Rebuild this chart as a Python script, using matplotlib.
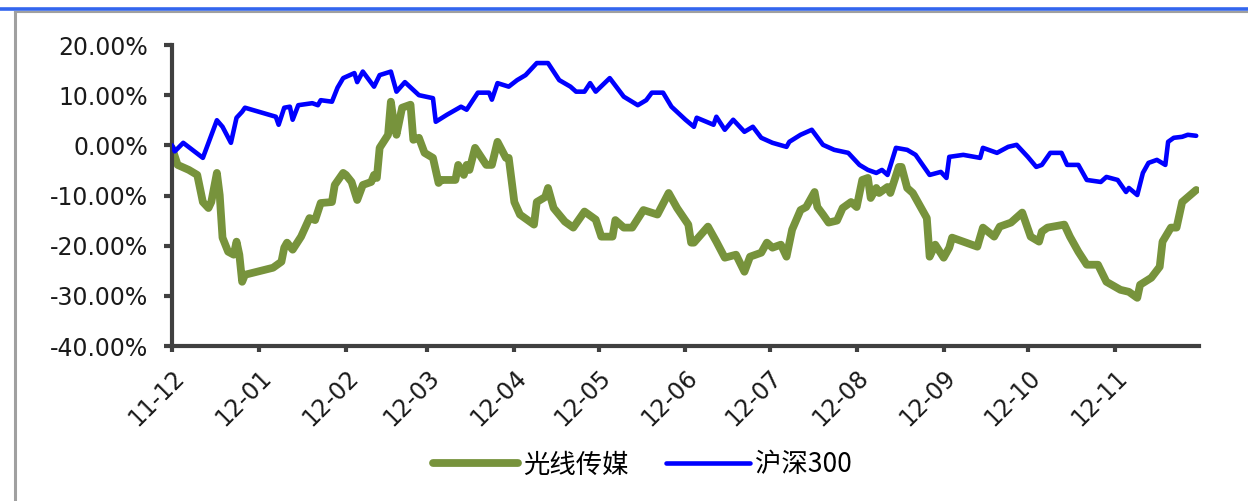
import matplotlib
matplotlib.use("Agg")
import matplotlib.pyplot as plt
import matplotlib.dates as mdates
from matplotlib.lines import Line2D
import pandas as pd

# ---------------- data ----------------
series_names = ["光线传媒", "沪深300"]

gx_dates = ["2011-12-01", "2011-12-03", "2011-12-07", "2011-12-10", "2011-12-12", "2011-12-14",
            "2011-12-15", "2011-12-17", "2011-12-18", "2011-12-19", "2011-12-21", "2011-12-23",
            "2011-12-24", "2011-12-25", "2011-12-26", "2011-12-27", "2012-01-06", "2012-01-09",
            "2012-01-10", "2012-01-11", "2012-01-13", "2012-01-16", "2012-01-19", "2012-01-21",
            "2012-01-23", "2012-01-27", "2012-01-28", "2012-01-31", "2012-02-01", "2012-02-03",
            "2012-02-05", "2012-02-07", "2012-02-10", "2012-02-11", "2012-02-12", "2012-02-13",
            "2012-02-16", "2012-02-17", "2012-02-18", "2012-02-19", "2012-02-21", "2012-02-24",
            "2012-02-25", "2012-02-27", "2012-02-29", "2012-03-03", "2012-03-05", "2012-03-06",
            "2012-03-11", "2012-03-12", "2012-03-14", "2012-03-15", "2012-03-16", "2012-03-18",
            "2012-03-22", "2012-03-24", "2012-03-26", "2012-03-29", "2012-03-30", "2012-04-01",
            "2012-04-03", "2012-04-08", "2012-04-09", "2012-04-12", "2012-04-13", "2012-04-15",
            "2012-04-19", "2012-04-22", "2012-04-26", "2012-04-30", "2012-05-02", "2012-05-06",
            "2012-05-07", "2012-05-10", "2012-05-13", "2012-05-17", "2012-05-22", "2012-05-26",
            "2012-05-29", "2012-06-02", "2012-06-03", "2012-06-04", "2012-06-09", "2012-06-12",
            "2012-06-15", "2012-06-19", "2012-06-22", "2012-06-24", "2012-06-28", "2012-06-30",
            "2012-07-02", "2012-07-05", "2012-07-07", "2012-07-09", "2012-07-12", "2012-07-14",
            "2012-07-17", "2012-07-18", "2012-07-20", "2012-07-22", "2012-07-25", "2012-07-27",
            "2012-07-30", "2012-08-01", "2012-08-03", "2012-08-05", "2012-08-06", "2012-08-08",
            "2012-08-09", "2012-08-12", "2012-08-13", "2012-08-16", "2012-08-17", "2012-08-19",
            "2012-08-21", "2012-08-24", "2012-08-26", "2012-08-27", "2012-08-29", "2012-09-01",
            "2012-09-03", "2012-09-04", "2012-09-13", "2012-09-15", "2012-09-19", "2012-09-21",
            "2012-09-25", "2012-09-29", "2012-10-02", "2012-10-05", "2012-10-06", "2012-10-08",
            "2012-10-14", "2012-10-16", "2012-10-19", "2012-10-22", "2012-10-26", "2012-10-29",
            "2012-11-03", "2012-11-06", "2012-11-09", "2012-11-10", "2012-11-14", "2012-11-17",
            "2012-11-18", "2012-11-21", "2012-11-23", "2012-11-25", "2012-11-30"]
gx_values = [-0.5, -3.9, -4.9, -5.9, -11.3, -12.5,
             -11.3, -5.5, -9.9, -18.4, -21.2, -21.8,
             -19.2, -21.8, -27.2, -25.8, -24.4, -23.2,
             -20.4, -19.4, -20.8, -18.2, -14.5, -14.9,
             -11.5, -11.3, -7.9, -5.5, -5.9, -7.3,
             -10.9, -7.9, -7.3, -5.9, -6.5, -0.5,
             2.1, 8.7, 4.7, 2.1, 7.5, 8.1,
             1.1, 1.5, -1.5, -2.5, -7.5, -6.9,
             -6.9, -3.9, -5.9, -3.9, -4.9, -0.5,
             -3.9, -3.9, 0.7, -2.5, -2.5, -11.3,
             -13.8, -15.8, -11.3, -10.3, -8.5, -12.5,
             -15.2, -16.4, -13.2, -14.8, -18.2, -18.2,
             -14.9, -16.4, -16.4, -12.9, -13.8, -9.5,
             -12.5, -15.8, -19.4, -19.4, -16.2, -19.2,
             -22.4, -21.8, -25.2, -22.2, -21.4, -19.4,
             -20.4, -19.8, -22.2, -16.8, -12.9, -12.3,
             -9.3, -12.3, -13.8, -15.4, -15.0, -12.5,
             -11.3, -12.3, -6.9, -6.5, -10.5, -8.5,
             -9.5, -8.3, -9.5, -4.3, -4.3, -8.5,
             -9.5, -12.5, -14.5, -22.2, -19.8, -22.4,
             -20.4, -18.4, -20.2, -16.4, -18.2, -16.2,
             -15.4, -13.4, -18.2, -19.2, -17.2, -16.4,
             -15.8, -18.2, -21.2, -23.8, -23.8, -27.2,
             -28.8, -29.2, -30.4, -27.8, -26.4, -24.2,
             -19.2, -16.4, -16.4, -11.3, -8.9]

hs_dates = ["2011-12-01", "2011-12-02", "2011-12-05", "2011-12-12", "2011-12-17", "2011-12-19",
            "2011-12-22", "2011-12-24", "2011-12-26", "2011-12-27", "2012-01-07", "2012-01-08",
            "2012-01-10", "2012-01-12", "2012-01-13", "2012-01-15", "2012-01-20", "2012-01-22",
            "2012-01-23", "2012-01-27", "2012-01-29", "2012-01-31", "2012-02-04", "2012-02-05",
            "2012-02-07", "2012-02-11", "2012-02-13", "2012-02-17", "2012-02-19", "2012-02-22",
            "2012-02-27", "2012-03-03", "2012-03-04", "2012-03-08", "2012-03-13", "2012-03-15",
            "2012-03-19", "2012-03-23", "2012-03-24", "2012-03-26", "2012-03-30", "2012-04-02",
            "2012-04-05", "2012-04-09", "2012-04-13", "2012-04-17", "2012-04-21", "2012-04-23",
            "2012-04-26", "2012-04-28", "2012-04-30", "2012-05-05", "2012-05-10", "2012-05-15",
            "2012-05-18", "2012-05-20", "2012-05-24", "2012-05-27", "2012-06-01", "2012-06-04",
            "2012-06-05", "2012-06-11", "2012-06-12", "2012-06-15", "2012-06-18", "2012-06-22",
            "2012-06-25", "2012-06-28", "2012-07-02", "2012-07-07", "2012-07-08", "2012-07-12",
            "2012-07-16", "2012-07-20", "2012-07-24", "2012-07-29", "2012-08-02", "2012-08-05",
            "2012-08-08", "2012-08-10", "2012-08-12", "2012-08-15", "2012-08-19", "2012-08-22",
            "2012-08-27", "2012-08-31", "2012-09-02", "2012-09-03", "2012-09-08", "2012-09-14",
            "2012-09-15", "2012-09-20", "2012-09-24", "2012-09-27", "2012-10-01", "2012-10-04",
            "2012-10-06", "2012-10-09", "2012-10-13", "2012-10-15", "2012-10-19", "2012-10-22",
            "2012-10-27", "2012-10-29", "2012-11-02", "2012-11-05", "2012-11-06", "2012-11-09",
            "2012-11-11", "2012-11-13", "2012-11-16", "2012-11-19", "2012-11-20", "2012-11-22",
            "2012-11-25", "2012-11-27", "2012-11-30"]
hs_values = [0.0, -1.2, 0.5, -2.5, 5.0, 3.7,
             0.5, 5.5, 6.7, 7.5, 5.7, 4.1,
             7.5, 7.7, 5.1, 8.0, 8.4, 8.0,
             9.0, 8.7, 11.5, 13.4, 14.4, 12.6,
             14.7, 11.7, 14.0, 14.7, 10.7, 12.6,
             10.0, 9.4, 4.7, 6.1, 7.7, 7.1,
             10.5, 10.5, 9.1, 12.4, 11.7, 13.0,
             14.0, 16.4, 16.4, 13.0, 11.7, 10.7,
             10.7, 12.4, 10.7, 13.4, 9.7, 8.0,
             9.0, 10.5, 10.5, 7.7, 5.1, 3.7,
             5.5, 4.1, 5.7, 3.1, 5.1, 2.7,
             3.7, 1.5, 0.5, -0.3, 0.7, 2.1,
             3.1, 0.1, -0.9, -1.5, -3.9, -4.9,
             -5.5, -4.9, -5.9, -0.5, -0.9, -1.9,
             -5.9, -5.3, -6.5, -2.3, -1.9, -2.5,
             -0.5, -1.5, -0.3, 0.1, -2.3, -4.3,
             -3.9, -1.5, -1.5, -3.9, -3.9, -6.9,
             -7.3, -6.3, -6.9, -9.3, -8.5, -9.9,
             -5.5, -3.5, -2.9, -3.9, 0.7, 1.5,
             1.7, 2.1, 1.9]

y_ticks = [-40, -30, -20, -10, 0, 10, 20]
x_start, x_end = "2011-12-01", "2012-12-01"

# ---------------- style ----------------
W, H = 1248, 501
DPI = 100
green = "#77933C"
blue = "#0000FF"
axis_col = "#404040"
label_col = "#1a1a1a"
label_size = 17

fig = plt.figure(figsize=(W / DPI, H / DPI), dpi=DPI)
fig.patch.set_facecolor("white")

# decorative border lines at the top and left
fig.add_artist(Line2D([0, 1], [1 - 8.5 / H, 1 - 8.5 / H], color="#3366EE", lw=2.6))
fig.add_artist(Line2D([14.5 / W, 1], [1 - 12 / H, 1 - 12 / H], color="#A0A0A0", lw=1.5))
fig.add_artist(Line2D([14.5 / W, 14.5 / W], [0, 1 - 12 / H], color="#A0A0A0", lw=2.2))

left, right = 172 / W, 1199 / W
bottom, top = 1 - 346 / H, 1 - 45 / H
ax = fig.add_axes([left, bottom, right - left, top - bottom])

gx_x = pd.to_datetime(gx_dates)
hs_x = pd.to_datetime(hs_dates)

l1, = ax.plot(gx_x, gx_values, color=green, lw=5.6, solid_capstyle="round",
              solid_joinstyle="round", label=series_names[0], zorder=2)
l2, = ax.plot(hs_x, hs_values, color=blue, lw=3.3, solid_capstyle="round",
              solid_joinstyle="round", label=series_names[1], zorder=3)

ax.set_xlim(pd.Timestamp(x_start), pd.Timestamp(x_end))
ax.set_ylim(-40, 20)
ax.set_yticks(y_ticks)
ax.set_yticklabels([f"{v:.2f}%" for v in y_ticks])

ax.xaxis.set_major_locator(mdates.MonthLocator())
xt = ax.get_xticks()
ax.set_xticks(xt[:-1])  # no tick label at the right end (12-12)
ax.xaxis.set_major_formatter(mdates.DateFormatter("%y-%m"))

for s in ["top", "right"]:
    ax.spines[s].set_visible(False)
for s in ["left", "bottom"]:
    ax.spines[s].set_color(axis_col)
    ax.spines[s].set_linewidth(3)

ax.tick_params(axis="y", direction="out", length=6, width=3, color=axis_col, pad=11)
ax.tick_params(axis="x", direction="out", length=4, width=3, color=axis_col, pad=10)
for lab in ax.get_yticklabels():
    lab.set_fontfamily("DejaVu Sans")
    lab.set_fontsize(label_size)
    lab.set_color(label_col)
for lab in ax.get_xticklabels():
    lab.set_fontfamily("DejaVu Sans")
    lab.set_fontsize(label_size)
    lab.set_color(label_col)
    lab.set_rotation(45)
    lab.set_ha("right")
    lab.set_va("top")
    lab.set_rotation_mode("anchor")

leg = fig.legend(handles=[l1, l2], loc="center", bbox_to_anchor=(0.515, 1 - 465 / H),
                 ncol=2, frameon=False, handlelength=3.2, handletextpad=0.2,
                 columnspacing=1.4,
                 prop=dict(family=["Noto Sans CJK SC", "DejaVu Sans"], size=19))
for t in leg.get_texts():
    t.set_color("black")

fig.savefig("out.png", dpi=DPI, facecolor="white")
